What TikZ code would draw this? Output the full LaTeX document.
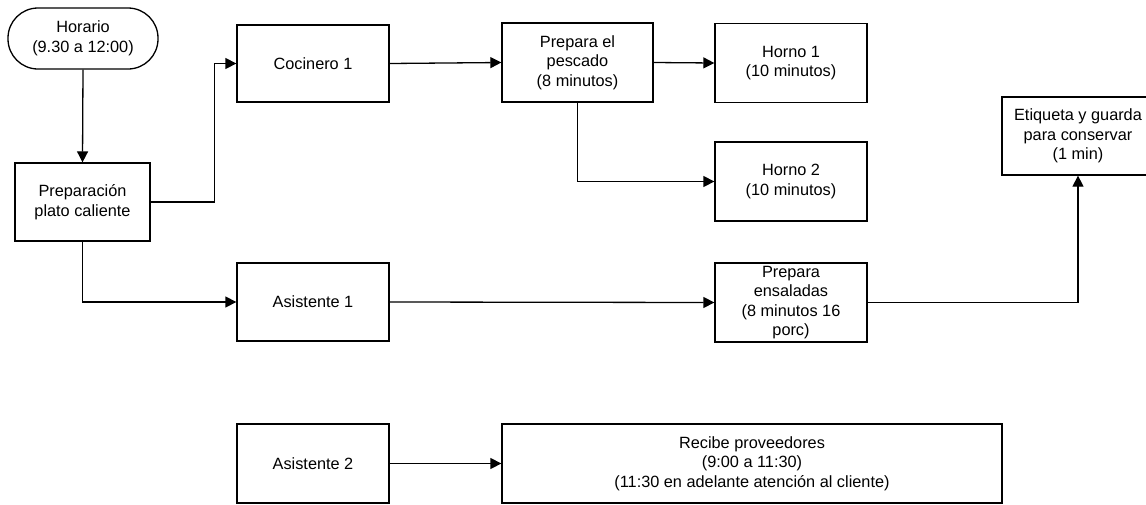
\documentclass[tikz,border=0pt]{standalone}
\usepackage{fontspec}
\setmainfont{Liberation Sans}
\usetikzlibrary{arrows.meta}
\tikzset{
  txt/.style={align=center, inner sep=1pt, font=\fontsize{16.3pt}{19.5pt}\selectfont},
  box/.style={txt, draw, line width=1.3pt, minimum width=152pt, minimum height=78pt},
  conn/.style={line width=1.3pt, -{Triangle[length=11pt,width=11pt]}}
}
\begin{document}
\begin{tikzpicture}[x=1pt,y=-1pt]
\useasboundingbox (0,0) rectangle (1146,504);
\clip (0,0) rectangle (1146,504);
\node[box, minimum width=150pt, minimum height=61pt, rounded corners=30pt] (hor) at (83,38.5) {Horario\\(9.30 a 12:00)};
\node[box, minimum width=135pt] (prep) at (82.5,202) {Preparación\\plato caliente};
\node[box, minimum height=77pt] (coc) at (313,63.5) {Cocinero 1};
\node[box, minimum width=151pt, minimum height=79pt] (pes) at (577.5,62.5) {Prepara el\\pescado\\(8 minutos)};
\node[box, minimum height=79pt] (h1) at (791,63) {Horno 1\\(10 minutos)};
\node[box, minimum height=79pt] (h2) at (791,181.5) {Horno 2\\(10 minutos)};
\node[box] (eti) at (1078,136) {Etiqueta y guarda\\para conservar\\(1 min)};
\node[box] (a1) at (313,302) {Asistente 1};
\node[box, minimum height=79pt] (ens) at (791,302.5) {};
\node[txt] (enst) at (ens.center) {Prepara\\ensaladas\\(8 minutos 16\\porc)};
\node[box, minimum height=79pt] (a2) at (313,463.5) {Asistente 2};
\node[box, minimum width=500pt, minimum height=79pt] (rec) at (752,463.5) {Recibe proveedores\\(9:00 a 11:30)\\(11:30 en adelante atención al cliente)};

\draw[conn] (hor.south) -- (prep.north);
\draw[conn] (prep.east) -- ++(64,0) coordinate (k1) |- (coc.west);
\draw[conn] (coc.east) -- (pes.west);
\draw[conn] (pes.east) -- (h1.west);
\draw[conn] (pes.south) |- (h2.west);
\draw[conn] (prep.south) |- (a1.west);
\draw[conn] (a1.east) -- (ens.west);
\draw[conn] (ens.east) -| (eti.south);
\draw[conn] (a2.east) -- (rec.west);
\end{tikzpicture}
\end{document}
